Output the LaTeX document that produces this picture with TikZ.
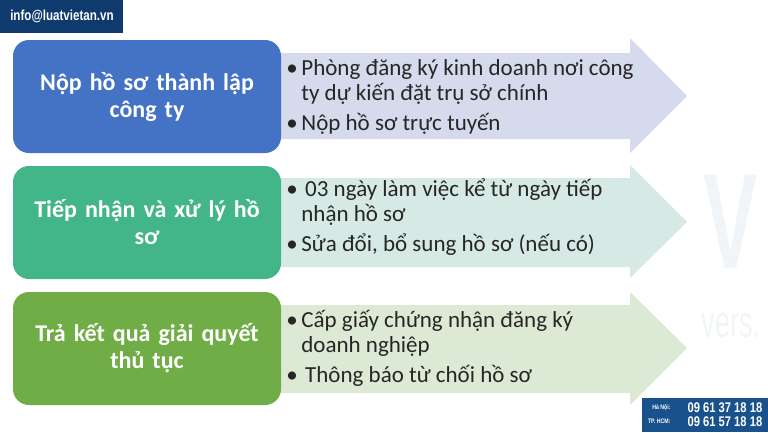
\documentclass[tikz,border=0pt]{standalone}
\usepackage{fontspec}
\setmainfont{Carlito}
\newfontfamily\condfont[FakeStretch=0.8]{Liberation Sans}
\newfontfamily\wmfont[FakeStretch=0.6]{Liberation Sans}
\usetikzlibrary{positioning}

\definecolor{stageblue}{HTML}{4472C4}
\definecolor{stageteal}{HTML}{42B689}
\definecolor{stagegreen}{HTML}{70AD47}
\definecolor{arrowblue}{HTML}{D5DAEC}
\definecolor{arrowteal}{HTML}{D6E9E4}
\definecolor{arrowgreen}{HTML}{DCE9D5}
\definecolor{navy}{HTML}{0E3A6D}
\definecolor{hotblue}{HTML}{19518C}
\definecolor{wmgray}{HTML}{F1F5F7}

\newcommand{\bitem}[1]{\makebox[15pt][l]{\textbullet}#1}
\newcommand{\bcont}[1]{\hspace*{15pt}#1}

\begin{document}
\begin{tikzpicture}[x=1pt,y=-1pt,
  stage/.style={rounded corners=16pt,minimum width=268pt,minimum height=113pt,
    text width=250pt,align=center,text=white,font=\fontsize{24}{27}\selectfont\bfseries},
  detail/.style={align=left,inner sep=0pt,text=black!85,font=\fontsize{23}{25}\selectfont}]

\useasboundingbox (0,0) rectangle (768,432);

% arrows behind the boxes
\fill[arrowblue] (275,53) -- (630,53) -- (630,38) -- (687,96) -- (630,153) -- (630,139) -- (275,139) -- cycle;
\fill[arrowteal] (275,178) -- (630,178) -- (630,165) -- (687,222) -- (630,278) -- (630,267) -- (275,267) -- cycle;
\fill[arrowgreen] (275,305) -- (630,305) -- (630,292) -- (687,348) -- (630,405) -- (630,393) -- (275,393) -- cycle;

% watermark
\node[text=wmgray,font=\fontsize{136}{136}\selectfont\wmfont\bfseries] (wmv) at (731,222) {V};
\node[text=wmgray,font=\fontsize{45}{45}\selectfont\wmfont] (wmvers) at (731,326) {vers.};

% steps
\node[stage,fill=stageblue] (box1) at (147,96.5) {Nộp hồ sơ thành lập\\công ty};
\node[stage,fill=stageteal] (box2) at (147,222.5) {Tiếp nhận và xử lý hồ\\sơ};
\node[stage,fill=stagegreen] (box3) at (147,348.5) {Trả kết quả giải quyết\\thủ tục};

% details
\node[detail,right=5pt of box1] (info1)
  {\bitem{Phòng đăng ký kinh doanh nơi công}\\\bcont{ty dự kiến đặt trụ sở chính}\\[5pt]\bitem{Nộp hồ sơ trực tuyến}};
\node[detail,right=5pt of box2,yshift=5pt] (info2)
  {\bitem{\,03 ngày làm việc kể từ ngày tiếp}\\\bcont{nhận hồ sơ}\\[5pt]\bitem{Sửa đổi, bổ sung hồ sơ (nếu có)}};
\node[detail,right=5pt of box3] (info3)
  {\bitem{Cấp giấy chứng nhận đăng ký}\\\bcont{doanh nghiệp}\\[5pt]\bitem{\,Thông báo từ chối hồ sơ}};

% contact badges
\fill[navy] (0,0) rectangle (123,33);
\node[text=white,font=\fontsize{14.5}{14.5}\selectfont\condfont\bfseries] (mail) at (62,16.5) {info@luatvietan.vn};
\fill[hotblue] (642,398) rectangle (768,432);
\node[text=white,anchor=east,font=\fontsize{6.5}{6.5}\selectfont\condfont\bfseries] (hn) at (674,407.5) {Hà Nội:};
\node[text=white,anchor=east,font=\fontsize{6.5}{6.5}\selectfont\condfont\bfseries] (hcm) at (674,421.5) {TP. HCM:};
\node[text=white,anchor=west,font=\fontsize{14}{14}\selectfont\condfont\bfseries] (hnphone) at (684,407.5) {09 61 37 18 18};
\node[text=white,anchor=west,font=\fontsize{14}{14}\selectfont\condfont\bfseries] (hcmphone) at (684,421.5) {09 61 57 18 18};

\end{tikzpicture}
\end{document}
